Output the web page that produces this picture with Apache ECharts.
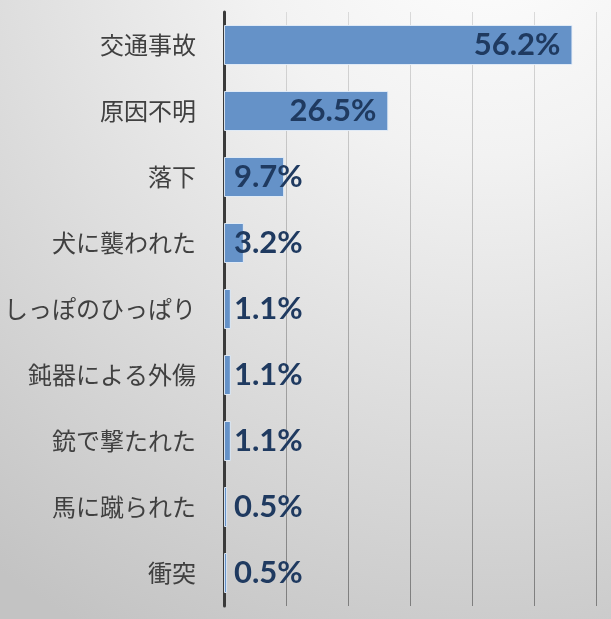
<!DOCTYPE html>
<html><head><meta charset="utf-8">
<script src="https://cdn.jsdelivr.net/npm/echarts@6/dist/echarts.min.js"></script>
<style>html,body{margin:0;padding:0;}#c{width:611px;height:619px;}</style>
</head><body><div id="c"></div>
<script>
const categories = ["交通事故","原因不明","落下","犬に襲われた","しっぽのひっぱり","鈍器による外傷","銃で撃たれた","馬に蹴られた","衝突"];
const values = [56.2, 26.5, 9.7, 3.2, 1.1, 1.1, 1.1, 0.5, 0.5];
const axisMin = 0, axisMax = 60, axisStep = 10;

const chart = echarts.init(document.getElementById('c'));
const labelBase = {show:true, fontFamily:'Lato', fontWeight:'bold', fontSize:31, color:'#1F3A60', formatter: p => p.value.toFixed(1)+'%'};
chart.setOption({
  backgroundColor: {type:'radial', x:0.8, y:-0.15, r:1.35, colorStops:[{offset:0,color:'#ffffff'},{offset:0.3,color:'#f2f2f2'},{offset:1,color:'#c3c3c3'}]},
  animation:false,
  grid:{left:224, right:15, top:12, bottom:13, containLabel:false},
  xAxis:{type:'value', min:axisMin, max:axisMax, interval:axisStep,
    axisLabel:{show:false}, axisLine:{show:false}, axisTick:{show:false},
    splitLine:{show:true, lineStyle:{width:1, color:{type:'linear', x:0, y:12, x2:0, y2:606, global:true, colorStops:[{offset:0,color:'#dadada'},{offset:1,color:'#7e7e7e'}]}}}},
  yAxis:{type:'category', inverse:true, data:categories,
    axisLine:{show:true, onZero:false, lineStyle:{color:'#3a3a3a', width:3}},
    axisTick:{show:false},
    axisLabel:{fontFamily:'Noto Sans CJK JP', fontSize:24, color:'#404040', margin:28}},
  series:[{type:'bar', barWidth:40,
    itemStyle:{color:'#6592C8', borderColor:'rgba(230,238,248,0.9)', borderWidth:1},
    data: values.map(v => ({value:v, label: Object.assign({}, labelBase, v > 15 ? {position:'insideRight', distance:12} : {position:'insideLeft', distance:10})})),
    label: labelBase
  }]
});
</script></body></html>
